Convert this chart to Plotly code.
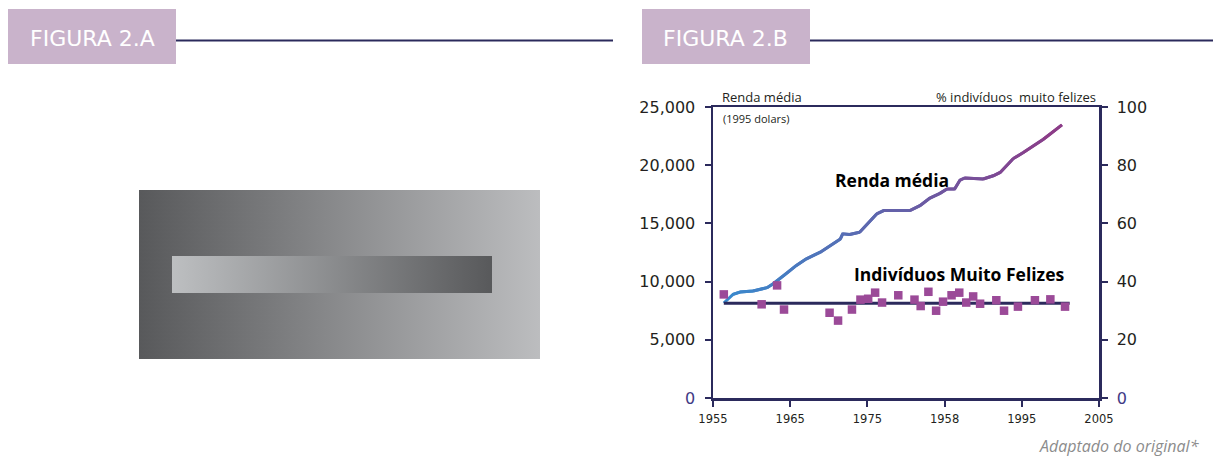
import plotly.graph_objects as go

# ---------------- data ----------------
income_years = [1956.4, 1957.6, 1958.5, 1960.2, 1962.0, 1962.8, 1964.5, 1965.8, 1967.1,
                1968.9, 1971.5, 1971.8, 1972.7, 1974.0, 1976.2, 1977.1, 1980.5, 1981.8,
                1983.1, 1984.4, 1985.3, 1986.3, 1987.0, 1987.6, 1990.0, 1991.3, 1992.2,
                1993.9, 1995.2, 1997.8, 2000.2]
income = [8160, 8900, 9100, 9190, 9480, 9820, 10680, 11390, 11960,
          12530, 13670, 14100, 14040, 14240, 15810, 16100, 16100, 16520,
          17180, 17580, 17950, 17950, 18720, 18900, 18810, 19090, 19380,
          20570, 21090, 22230, 23460]

happy_years = [1956.4, 1961.3, 1963.3, 1964.2, 1970.1, 1971.2, 1973.0, 1974.1, 1975.1,
               1976.0, 1976.9, 1979.0, 1981.1, 1981.9, 1982.9, 1983.9, 1984.8, 1985.9,
               1986.9, 1987.8, 1988.7, 1989.6, 1991.7, 1992.7, 1994.5, 1996.7, 1998.7, 2000.6]
happy_pct = [35.6, 32.2, 38.7, 30.4, 29.3, 26.6, 30.4, 33.8, 34.1,
             36.2, 32.8, 35.3, 33.8, 31.6, 36.5, 30.0, 33.1, 35.3,
             36.2, 32.8, 34.9, 32.4, 33.6, 30.0, 31.4, 33.6, 33.9, 31.4]

happy_mean_years = [1956.4, 2001.2]
happy_mean = [32.6, 32.6]

x_tickvals = [1955, 1965, 1975, 1985, 1995, 2005]
x_ticktext = ["1955", "1965", "1975", "1958", "1995", "2005"]
yl_tickvals = [0, 5000, 10000, 15000, 20000, 25000]
yl_ticktext = ["0", "5,000", "10,000", "15,000", "20,000", "25,000"]
yr_tickvals = [0, 20, 40, 60, 80, 100]
yr_ticktext = ["0", "20", "40", "60", "80", "100"]

# ---------------- style ----------------
W, H = 1213, 456
NAVY = "#2b2a5c"
ZERO_COL = "#3f3a85"
TXT = "#231f20"
SQ = "#9b4a98"
HEAD_BG = "#c9b3cb"
C_START = (56, 138, 206)
C_END = (142, 58, 134)
NUMFONT = "DejaVu Sans"
TXTFONT = "Open Sans"


def px(x):
    return x / W


def py(y):
    return 1 - y / H


def lerp_col(t):
    c = [round(a + (b - a) * t) for a, b in zip(C_START, C_END)]
    return "rgb({},{},{})".format(*c)


fig = go.Figure()

# ----- Figure 2.A : gradient illusion (pixel axes x3/y3) -----
fig.add_trace(go.Scatter(
    x=[139, 540, 540, 139, 139], y=[190, 190, 359, 359, 190],
    fill="toself", mode="lines", line=dict(width=0),
    fillgradient=dict(type="horizontal", colorscale=[[0, "#58595b"], [1, "#bcbdbf"]]),
    xaxis="x3", yaxis="y3", hoverinfo="skip", showlegend=False))
fig.add_trace(go.Scatter(
    x=[172, 492, 492, 172, 172], y=[256, 256, 293, 293, 256],
    fill="toself", mode="lines", line=dict(width=0),
    fillgradient=dict(type="horizontal", colorscale=[[0, "#bdbfc1"], [1, "#58595b"]]),
    xaxis="x3", yaxis="y3", hoverinfo="skip", showlegend=False))

# ----- Figure 2.B -----
x0, x1 = income_years[0], income_years[-1]
n = len(income_years)
for i in range(n - 1):
    j = min(i + 3, n)
    t = ((income_years[i] + income_years[i + 1]) / 2 - x0) / (x1 - x0)
    fig.add_trace(go.Scatter(
        x=income_years[i:j], y=income[i:j], mode="lines",
        line=dict(color=lerp_col(t), width=3),
        xaxis="x", yaxis="y", hoverinfo="skip", showlegend=False))

fig.add_trace(go.Scatter(
    x=happy_mean_years, y=happy_mean, mode="lines",
    line=dict(color=NAVY, width=3),
    xaxis="x", yaxis="y2", hoverinfo="skip", showlegend=False))
fig.add_trace(go.Scatter(
    x=happy_years, y=happy_pct, mode="markers",
    marker=dict(symbol="square", size=8.5, color=SQ),
    xaxis="x", yaxis="y2", hoverinfo="skip", showlegend=False))

zero_span = '<span style="color:%s">0</span>' % ZERO_COL
yl_text = [zero_span if t == "0" else t for t in yl_ticktext]
yr_text = [zero_span if t == "0" else t for t in yr_ticktext]

axis_common = dict(showgrid=False, zeroline=False, showline=True, linecolor=NAVY,
                   linewidth=2.5, ticks="outside", tickcolor=NAVY, tickwidth=2, ticklen=6,
                   automargin=False)

fig.update_layout(
    template="none",
    width=W, height=H, margin=dict(l=0, r=0, t=0, b=0, pad=0), autosize=False,
    showlegend=False, hovermode=False,
    paper_bgcolor="white", plot_bgcolor="rgba(0,0,0,0)",
    xaxis=dict(domain=[px(713), px(1099)], range=[1955, 2005], anchor="y",
               tickmode="array", tickvals=x_tickvals, ticktext=x_ticktext,
               tickfont=dict(family=NUMFONT, size=11.5, color=TXT),
               mirror=True, ticklabelstandoff=3, **axis_common),
    yaxis=dict(domain=[py(398), py(107)], range=[0, 25000], anchor="x",
               tickmode="array", tickvals=yl_tickvals, ticktext=yl_text,
               tickfont=dict(family=NUMFONT, size=16, color=TXT),
               ticklabelstandoff=6, **axis_common),
    yaxis2=dict(overlaying="y", side="right", range=[0, 100], anchor="x",
                tickmode="array", tickvals=yr_tickvals, ticktext=yr_text,
                tickfont=dict(family=NUMFONT, size=16, color=TXT),
                ticklabelstandoff=6, **axis_common),
    xaxis3=dict(domain=[0, 1], range=[0, W], visible=False, anchor="y3",
                fixedrange=True, automargin=False),
    yaxis3=dict(domain=[0, 1], range=[H, 0], visible=False, anchor="x3",
                fixedrange=True, automargin=False),
)

# ----- headers -----
shapes = []
annotations = []
for (bx0, bx1, label, lx0, lx1) in [(8, 176, "FIGURA 2.A", 176, 613),
                                     (642, 810, "FIGURA 2.B", 810, 1213)]:
    shapes.append(dict(type="rect", xref="paper", yref="paper",
                       x0=px(bx0), x1=px(bx1), y0=py(64), y1=py(9),
                       fillcolor=HEAD_BG, line=dict(width=0), layer="above"))
    shapes.append(dict(type="line", xref="paper", yref="paper",
                       x0=px(lx0), x1=px(lx1), y0=py(40.5), y1=py(40.5),
                       line=dict(color=NAVY, width=2)))
    annotations.append(dict(text=label, xref="paper", yref="paper",
                            x=px((bx0 + bx1) / 2), y=py(38), xanchor="center", yanchor="middle",
                            showarrow=False, font=dict(family=NUMFONT, size=22, color="white")))

annotations += [
    dict(text="Renda média", x=px(720), y=py(96.5), xanchor="left", yanchor="middle",
         font=dict(family=TXTFONT, size=13, color=TXT)),
    dict(text="(1995 dolars)", x=px(721), y=py(119), xanchor="left", yanchor="middle",
         font=dict(family=TXTFONT, size=11, color=TXT)),
    dict(text="% indivíduos&nbsp; muito felizes", x=px(1098), y=py(96.5), xanchor="right",
         yanchor="middle", font=dict(family=TXTFONT, size=13, color=TXT)),
    dict(text="<b>Renda média</b>", x=px(833), y=py(180), xanchor="left", yanchor="middle",
         font=dict(family=TXTFONT, size=17.5, color="black")),
    dict(text="<b>Indivíduos Muito Felizes</b>", x=px(852), y=py(274), xanchor="left",
         yanchor="middle", font=dict(family=TXTFONT, size=17.5, color="black")),
    dict(text="<i>Adaptado do original*</i>", x=px(1201), y=py(446), xanchor="right",
         yanchor="middle", font=dict(family=TXTFONT, size=16, color="#8c8c8c")),
]
for a in annotations:
    a.setdefault("xref", "paper")
    a.setdefault("yref", "paper")
    a.setdefault("showarrow", False)

fig.update_layout(shapes=shapes, annotations=annotations)

fig.write_html("out.html",
               config={"displayModeBar": False, "staticPlot": True},
               post_script="document.body.style.margin='0';document.body.style.overflow='hidden';")
